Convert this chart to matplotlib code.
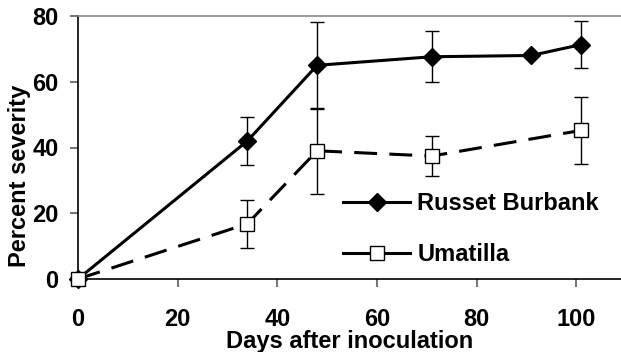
import matplotlib
matplotlib.use("Agg")
import matplotlib.pyplot as plt
from matplotlib.lines import Line2D

plt.rcParams['font.family'] = ['Liberation Sans', 'DejaVu Sans']
plt.rcParams['font.weight'] = 'bold'

days_rb = [0, 34, 48, 71, 91, 101]
sev_rb = [0, 42, 65, 67.6, 68, 71.3]
err_rb = [0, 7.3, 13.2, 7.8, 0, 7.2]

days_um = [0, 34, 48, 71, 101]
sev_um = [0, 16.8, 39.0, 37.4, 45.2]
err_um = [0, 7.3, 13.0, 6.0, 10.3]

xticks = [0, 20, 40, 60, 80, 100]
yticks = [0, 20, 40, 60, 80]

fig = plt.figure(figsize=(6.21, 3.52), dpi=100)
ax = fig.add_axes([78/621, 1-279/352, 1-78/621, (279-16)/352])

fs = 17

ax.errorbar(days_rb, sev_rb, yerr=err_rb, fmt='none', ecolor='black',
            elinewidth=1, capsize=5, capthick=1, zorder=2)
ax.errorbar(days_um, sev_um, yerr=err_um, fmt='none', ecolor='black',
            elinewidth=1, capsize=5, capthick=1, zorder=2)

ax.plot(days_rb, sev_rb, color='black', lw=2.2, marker='D', ms=8.7,
        mfc='black', mec='black', zorder=3, clip_on=False)
l2, = ax.plot(days_um, sev_um, color='black', lw=2.2, marker='s', ms=9.5,
              mfc='white', mec='black', mew=1, zorder=4, clip_on=False)
l2.set_dashes((7.5, 4))

ax.set_xlim(0, 109)
ax.set_ylim(0, 80)
ax.set_xticks(xticks)
ax.set_yticks(yticks)
ax.set_xticklabels([str(t) for t in xticks], fontsize=fs, fontweight='bold')
ax.set_yticklabels([str(t) for t in yticks], fontsize=fs, fontweight='bold')

ax.tick_params(axis='x', direction='out', length=6, width=1.5, color='#777777', pad=15)
ax.tick_params(axis='y', direction='out', length=6, width=1.5, color='#777777', pad=8)

for s in ['left', 'bottom']:
    ax.spines[s].set_color('black')
    ax.spines[s].set_linewidth(1.2)
ax.spines['top'].set_color('#888888')
ax.spines['top'].set_linewidth(1.2)
ax.spines['right'].set_visible(False)

ax.set_xlabel('Days after inoculation', fontsize=fs, fontweight='bold')
ax.xaxis.set_label_coords(0.5, -0.195, transform=ax.transAxes)
ax.xaxis.label.set_va('top')
ax.set_ylabel('Percent severity', fontsize=fs, fontweight='bold')
ax.yaxis.set_label_coords(20/621, 0.5, transform=fig.transFigure)
ax.yaxis.label.set_va('center')

h1 = Line2D([], [], color='black', lw=2.2, marker='D', ms=8.7, mfc='black', mec='black')
h2 = Line2D([], [], color='black', lw=2.2, marker='s', ms=9.5, mfc='white', mec='black', mew=1)
ax.legend([h1, h2], ['Russet Burbank', 'Umatilla'], loc='upper left',
          bbox_to_anchor=(343/621, 1-192/352), bbox_transform=fig.transFigure,
          frameon=False, handlelength=2.85, handletextpad=0.3,
          labelspacing=1.2, borderpad=0, borderaxespad=0, prop={'weight': 'bold', 'size': fs})

fig.savefig('out.png', dpi=100)
